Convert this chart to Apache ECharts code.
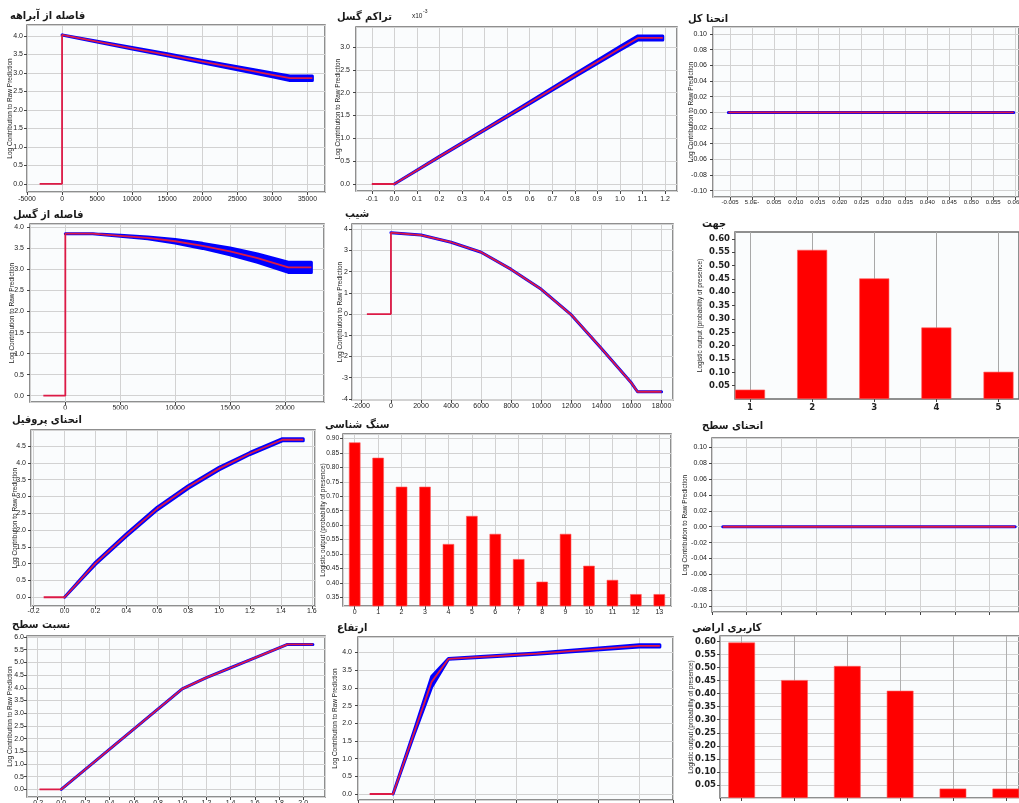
<!DOCTYPE html>
<html><head><meta charset="utf-8">
<script src="https://cdn.jsdelivr.net/npm/echarts@6/dist/echarts.min.js"></script>
<style>html,body{margin:0;padding:0;background:#fff}#c{width:1019px;height:803px}</style>
</head><body><div id="c"></div><script>
// ---------- DATA ----------
const titles = ['فاصله از آبراهه','تراکم گسل','انحنا کل','فاصله از گسل','شیب','جهت','انحنای پروفیل','سنگ شناسی','انحنای سطح','نسبت سطح','ارتفاع','کاربری اراضی'];
const logName = 'Log Contribution to Raw Prediction';
const lgtName = 'Logistic output (probability of presence)';
const p2Exponent = ['x10', '-3'];
const p3ZeroLabel = '5.0E-';

// 1 فاصله از آبراهه
const p1X = [-3200, 0, 0, 5000, 10000, 15000, 20000, 25000, 30000, 32500, 35700];
const p1Y = [0, 0, 4.03, 3.85, 3.67, 3.49, 3.31, 3.13, 2.95, 2.86, 2.86];
const p1BandX  = [0, 5000, 10000, 15000, 20000, 25000, 30000, 32500, 35700];
const p1BandLo = [4.03, 3.84, 3.65, 3.47, 3.28, 3.09, 2.90, 2.80, 2.80];
const p1BandHi = [4.03, 3.86, 3.69, 3.52, 3.34, 3.17, 3.00, 2.92, 2.92];
// 2 تراکم گسل
const p2X = [-0.1, 0, 0.2, 0.4, 0.6, 0.8, 1.0, 1.08, 1.19];
const p2Y = [0, 0, 0.6, 1.19, 1.78, 2.38, 2.97, 3.2, 3.2];
const p2BandX  = [0, 0.2, 0.4, 0.6, 0.8, 1.0, 1.08, 1.19];
const p2BandLo = [0, 0.595, 1.18, 1.76, 2.35, 2.93, 3.155, 3.155];
const p2BandHi = [0, 0.605, 1.20, 1.80, 2.41, 3.01, 3.245, 3.245];
// 3 انحنا کل
const p3X = [-0.0054, 0.0597];
const p3Y = [0, 0];
// 4 فاصله از گسل
const p4X = [-2000, 0, 0, 2500, 5000, 7500, 10000, 12500, 15000, 17500, 20300, 22400];
const p4Y = [0, 0, 3.85, 3.85, 3.80, 3.75, 3.67, 3.56, 3.43, 3.27, 3.05, 3.05];
const p4BandX  = [0, 2500, 5000, 7500, 10000, 12500, 15000, 17500, 20300, 22400];
const p4BandLo = [3.85, 3.85, 3.79, 3.73, 3.63, 3.50, 3.35, 3.17, 2.93, 2.93];
const p4BandHi = [3.85, 3.85, 3.81, 3.77, 3.71, 3.62, 3.51, 3.37, 3.17, 3.17];
// 5 شیب
const p5X = [-1600, 0, 0, 2000, 4000, 6000, 8000, 10000, 12000, 14000, 16000, 16400, 18000];
const p5Y = [0, 0, 3.84, 3.73, 3.39, 2.92, 2.11, 1.17, -0.04, -1.62, -3.25, -3.66, -3.66];
// 6 جهت
const p6Cats = [1, 2, 3, 4, 5];
const p6Vals = [0.035, 0.559, 0.452, 0.268, 0.102];
// 7 انحنای پروفیل
const p7X = [-0.135, 0, 0.2, 0.4, 0.6, 0.8, 1.0, 1.2, 1.41, 1.545];
const p7Y = [0, 0, 1.01, 1.85, 2.64, 3.28, 3.83, 4.28, 4.69, 4.69];
const p7BandX  = [0, 0.2, 0.4, 0.6, 0.8, 1.0, 1.2, 1.41, 1.545];
const p7BandLo = [0, 0.98, 1.81, 2.60, 3.24, 3.79, 4.25, 4.66, 4.66];
const p7BandHi = [0, 1.04, 1.89, 2.68, 3.32, 3.87, 4.31, 4.72, 4.72];
// 8 سنگ شناسی
const p8Cats = [0, 1, 2, 3, 4, 5, 6, 7, 8, 9, 10, 11, 12, 13];
const p8Vals = [0.886, 0.833, 0.733, 0.733, 0.535, 0.632, 0.570, 0.483, 0.405, 0.570, 0.460, 0.411, 0.362, 0.362];
// 9 انحنای سطح
const p9X = [0.31, 8.74];
const p9Y = [0, 0];
// 10 نسبت سطح
const p10X = [-0.18, 0, 0.5, 1.0, 1.2, 1.4, 1.6, 1.87, 2.08];
const p10Y = [0, 0, 1.98, 3.96, 4.40, 4.79, 5.18, 5.71, 5.71];
// 11 ارتفاع
const p11X = [-0.57, 0, 0.5, 0.94, 1.35, 3.5, 6.0, 6.5];
const p11Y = [0, 0, 1.69, 3.17, 3.82, 3.97, 4.19, 4.19];
const p11BandX  = [0, 0.5, 0.94, 1.35, 3.5, 6.0, 6.5];
const p11BandLo = [0, 1.64, 3.02, 3.81, 3.95, 4.16, 4.16];
const p11BandHi = [0, 1.74, 3.32, 3.83, 3.99, 4.22, 4.22];
// 12 کاربری اراضی
const p12Cats = [1, 2, 3, 4, 5, 6];
const p12Vals = [0.596, 0.452, 0.506, 0.411, 0.036, 0.036];

// ---------- BUILD ----------
const RED = '#dc1a46', BLUE = '#0000ff';
const FONT = '"Liberation Sans", Arial, sans-serif';
const grids = [], xAxes = [], yAxes = [], series = [], graphics = [];
function merge(a, b) { if (!b) return a; for (const k in b) { if (b[k] && typeof b[k] === 'object' && !Array.isArray(b[k]) && a[k] && typeof a[k] === 'object') merge(a[k], b[k]); else a[k] = b[k]; } return a; }
const fmt = d => v => (Math.abs(v) < 1e-12 ? 0 : v).toFixed(d);
function axis(gi, r, o) {
  const [min, max, step] = r;
  const mult = v => Math.abs(v / step - Math.round(v / step)) < 1e-6;
  return merge({
    type: 'value', gridIndex: gi, min, max, minInterval: step, maxInterval: step,
    axisLine: { show: false, onZero: false },
    axisTick: { show: true, inside: false, length: 3, lineStyle: { color: '#444' } },
    splitLine: { show: true, lineStyle: { color: '#d2d2d2', width: 1 } },
    axisLabel: { show: true, fontSize: 7, color: '#222', fontFamily: FONT, margin: 4,
      showMinLabel: mult(min), showMaxLabel: mult(max), hideOverlap: false },
    nameTextStyle: { fontSize: 6.5, fontFamily: '"Liberation Sans Narrow","Liberation Sans",Arial', color: '#222' },
    nameMoveOverlap: false
  }, o);
}
function panel(g, xr, yr, xo, yo) {
  const gi = grids.length;
  grids.push({ left: g[0], top: g[1], width: g[2], height: g[3], show: true, backgroundColor: '#fafcfd',
    borderColor: '#6b6b6b', borderWidth: 1.5, containLabel: false, outerBoundsMode: 'none' });
  xAxes.push(axis(gi, xr, merge({ position: 'bottom' }, xo)));
  yAxes.push(axis(gi, yr, merge({ position: 'left', nameLocation: 'middle', nameRotate: 90 }, yo)));
  return gi;
}
const zip = (a, b) => a.map((v, i) => [v, b[i]]);
function line(gi, xs, ys) {
  series.push({ type: 'line', xAxisIndex: gi, yAxisIndex: gi, data: zip(xs, ys), symbol: 'none', silent: true,
    lineStyle: { color: RED, width: 1.8 }, z: 5 });
}
function band(gi, xs, lo, hi) {
  series.push({ type: 'custom', xAxisIndex: gi, yAxisIndex: gi, silent: true, clip: true, z: 3,
    data: xs.map((x, i) => [x, lo[i], hi[i]]), encode: { x: 0, y: [1, 2] },
    renderItem(params, api) {
      if (params.dataIndex !== 0) return { type: 'group', children: [] };
      const pts = [];
      for (let i = 0; i < xs.length; i++) pts.push(api.coord([xs[i], hi[i]]));
      for (let i = xs.length - 1; i >= 0; i--) pts.push(api.coord([xs[i], lo[i]]));
      return { type: 'polygon', shape: { points: pts }, style: { fill: BLUE, stroke: BLUE, lineWidth: 3, lineJoin: 'round' } };
    } });
}
function bars(gi, cats, vals, w) {
  series.push({ type: 'bar', xAxisIndex: gi, yAxisIndex: gi, data: zip(cats, vals), barWidth: w, silent: true,
    itemStyle: { color: '#ff0000', borderColor: '#ff5a5a', borderWidth: 0.6 }, z: 4 });
}
function title(i, x, y) {
  graphics.push({ type: 'text', x, y, z: 200, style: { text: titles[i], fontSize: 11, fontWeight: 'bold',
    fontFamily: '"DejaVu Sans Condensed","DejaVu Sans", sans-serif', fill: '#1a1a1a', align: 'left', verticalAlign: 'middle' } });
}
const boldLbl = { fontFamily: '"DejaVu Sans", sans-serif', fontWeight: 'bold', fontSize: 8.5, color: '#222' };

// 1
let g = panel([27, 25, 298, 167], [-5000, 37500, 5000], [-0.22, 4.3, 0.5],
  { axisLabel: { formatter: fmt(0), fontSize: 6.8, margin: 4 } },
  { axisLabel: { formatter: fmt(1), margin: 4 }, name: logName, nameGap: 12.8 });
band(g, p1BandX, p1BandLo, p1BandHi); line(g, p1X, p1Y); title(0, 10, 16);
// 2
g = panel([356, 27, 321, 164], [-0.17, 1.253, 0.1], [-0.153, 3.44, 0.5],
  { axisLabel: { formatter: fmt(1), margin: 5 } },
  { axisLabel: { formatter: fmt(1), margin: 6 }, name: logName, nameGap: 14.2 });
band(g, p2BandX, p2BandLo, p2BandHi); line(g, p2X, p2Y); title(1, 337, 17);
graphics.push({ type: 'text', x: 412, y: 16, z: 200, style: { text: p2Exponent[0], fontSize: 6.5, fontFamily: FONT, fill: '#222', verticalAlign: 'middle' } });
graphics.push({ type: 'text', x: 423, y: 12, z: 200, style: { text: p2Exponent[1], fontSize: 5, fontFamily: FONT, fill: '#222', verticalAlign: 'middle' } });
// 3
g = panel([713, 27, 306, 170], [-0.0089, 0.0609, 0.005], [-0.108, 0.109, 0.02],
  { axisLabel: { formatter: v => Math.abs(v) < 1e-9 ? p3ZeroLabel : v.toFixed(3), fontSize: 6, margin: 2 } },
  { axisLabel: { formatter: fmt(2), margin: 6 }, name: logName, nameGap: 17.8 });
band(g, p3X, p3Y, p3Y); line(g, p3X, p3Y); title(2, 688, 19);
// 4
g = panel([30, 224, 294, 178], [-3215, 23550, 5000], [-0.15, 4.08, 0.5],
  { axisLabel: { formatter: fmt(0), margin: 3 } },
  { axisLabel: { formatter: fmt(1), margin: 6 }, name: logName, nameGap: 13.8 });
band(g, p4BandX, p4BandLo, p4BandHi); line(g, p4X, p4Y); title(3, 13, 215);
graphics.push({ type: 'rect', z: 150, shape: { x: 20, y: 409.5, width: 312, height: 4 }, style: { fill: '#fff' } });
// 5
g = panel([352, 224, 321, 176], [-2590, 18760, 2000], [-4.05, 4.25, 1],
  { axisLabel: { formatter: fmt(0), margin: 3 } },
  { axisLabel: { formatter: fmt(0), margin: 4 }, name: logName, nameGap: 8.5 });
band(g, p5X.slice(2), p5Y.slice(2), p5Y.slice(2)); line(g, p5X, p5Y); title(4, 345, 214);
// 6
g = panel([735, 232, 284, 167], [0.758, 5.33, 1], [0, 0.626, 0.05],
  { axisLabel: merge({ formatter: fmt(0), margin: 4 }, boldLbl), splitLine: { lineStyle: { color: '#a8a8a8' } } },
  { axisLabel: merge({ formatter: fmt(2), margin: 5, showMinLabel: false }, boldLbl), splitLine: { show: false }, name: lgtName, nameGap: 31.5 });
bars(g, p6Cats, p6Vals, 30); title(5, 702, 224);
// 7
g = panel([31, 430, 284, 176], [-0.217, 1.621, 0.2], [-0.26, 4.98, 0.5],
  { axisLabel: { formatter: fmt(1), margin: 2 } },
  { axisLabel: { formatter: fmt(1), margin: 5 }, name: logName, nameGap: 12.5 });
band(g, p7BandX, p7BandLo, p7BandHi); line(g, p7X, p7Y); title(6, 12, 420);
// 8
g = panel([343, 434, 328, 172], [-0.5, 13.5, 1], [0.321, 0.915, 0.05],
  { axisLabel: { formatter: fmt(0), margin: 3 } },
  { axisLabel: { formatter: fmt(2), fontSize: 6.5, margin: 4 }, name: lgtName, nameGap: 16.2 });
bars(g, p8Cats, p8Vals, 11.5); title(7, 325, 425);
// 9
g = panel([712, 438, 307, 174], [0, 8.85, 1], [-0.1076, 0.112, 0.02],
  { axisLabel: { show: false } },
  { axisLabel: { formatter: fmt(2), margin: 5 }, name: logName, nameGap: 23.5 });
band(g, p9X, p9Y, p9Y); line(g, p9X, p9Y); title(8, 702, 426);
// 10
g = panel([27, 636, 298, 161], [-0.283, 2.18, 0.2], [-0.3, 6.04, 0.5],
  { axisLabel: { formatter: fmt(1), margin: 3 } },
  { axisLabel: { formatter: fmt(1), margin: 3 }, name: logName, nameGap: 12.8 });
band(g, p10X.slice(1), p10Y.slice(1), p10Y.slice(1)); line(g, p10X, p10Y); title(9, 12, 625);
// 11
g = panel([358, 637, 315, 163], [-0.854, 6.82, 1], [-0.17, 4.44, 0.5],
  { axisLabel: { show: false } },
  { axisLabel: { formatter: fmt(1), margin: 6 }, name: logName, nameGap: 19.5 });
band(g, p11BandX, p11BandLo, p11BandHi); line(g, p11X, p11Y); title(10, 337, 628);
// 12
g = panel([720, 636, 299, 162], [0.59, 6.25, 1], [0, 0.621, 0.05],
  { axisLabel: { show: false }, splitLine: { lineStyle: { color: '#b0b0b0' } } },
  { axisLabel: merge({ formatter: fmt(2), margin: 4, showMinLabel: false }, boldLbl), name: lgtName, nameGap: 24.8 });
bars(g, p12Cats, p12Vals, 26.7); title(11, 692, 628);

const chart = echarts.init(document.getElementById('c'), null, { renderer: 'canvas' });
chart.setOption({ animation: false, backgroundColor: '#fff', grid: grids, xAxis: xAxes, yAxis: yAxes, series, graphic: graphics });
</script></body></html>
